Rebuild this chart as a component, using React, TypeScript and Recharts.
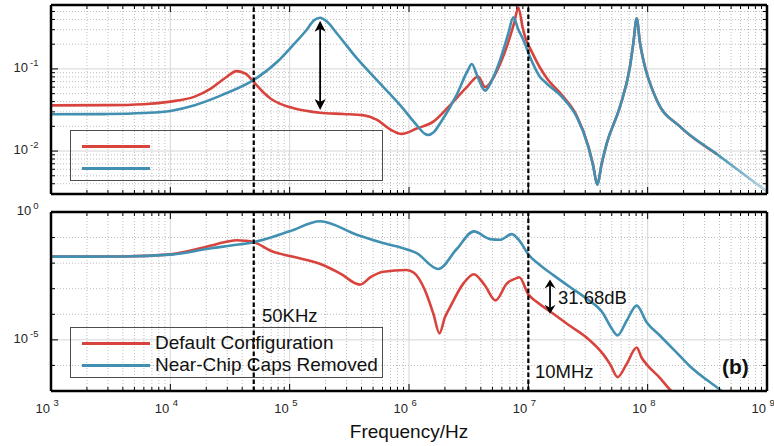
import React from "react";
import { CartesianGrid, Label, Legend, Line, LineChart, ReferenceLine, XAxis, YAxis } from "recharts";

type Pt = [number, number];

const RED = "#d8443d";
const BLUE = "#4190b1";
const INK = "#262626";
const FONT = "Arial, 'Liberation Sans', Helvetica, sans-serif";

const seriesNames = ["Default Configuration", "Near-Chip Caps Removed"];

// frequency axis (Hz)
const freqDomain: [number, number] = [1e3, 1e9];
const freqDecades = [1e3, 1e4, 1e5, 1e6, 1e7, 1e8, 1e9];
const subSteps = [2, 3, 4, 5, 6, 7, 8, 9];
const freqMinor = freqDecades.slice(0, -1).flatMap((d) => subSteps.map((k) => k * d));
const freqTicks = [...freqDecades, ...freqMinor].sort((a, b) => a - b);
const markerHz = [5e4, 1e7];

// top panel
const topDomain: [number, number] = [0.003, 0.6];
const topLabelled = [0.01, 0.1];
const topTicks = [
  0.003, 0.004, 0.005, 0.006, 0.007, 0.008, 0.009, 0.01, 0.02, 0.03, 0.04, 0.05, 0.06, 0.07, 0.08, 0.09, 0.1, 0.2,
  0.3, 0.4, 0.5, 0.6,
];
const topMinorGrid = topTicks.filter((v) => v > 0.003 && !topLabelled.includes(v));

// bottom panel
const botDomain: [number, number] = [1e-7, 1];
const botLabelled = [1e-5, 1];
const botTicks = [1e-7, 1e-6, 1e-5, 1e-4, 1e-3, 1e-2, 1e-1, 1];
const botMinorGrid = [1e-6, 1e-4, 1e-3, 1e-2, 1e-1];

// [Hz, magnitude]
const topRed: Pt[] = [
  [1e3, 0.036], [3e3, 0.0362], [6e3, 0.0372], [1e4, 0.04], [1.6e4, 0.046], [2.2e4, 0.058], [2.9e4, 0.078],
  [3.6e4, 0.094], [4.3e4, 0.087], [5e4, 0.069], [6e4, 0.052], [7e4, 0.043], [9e4, 0.036], [1.1e5, 0.033],
  [1.8e5, 0.0293], [2.8e5, 0.0283], [4.1e5, 0.0274], [5.4e5, 0.024], [6.9e5, 0.0185], [8.7e5, 0.0162],
  [1.16e6, 0.0188], [1.6e6, 0.0228], [2.2e6, 0.036], [3.05e6, 0.06], [3.8e6, 0.081], [4.35e6, 0.06],
  [5.4e6, 0.092], [6.6e6, 0.187], [7.6e6, 0.36], [8.25e6, 0.56], [9e6, 0.31], [9.7e6, 0.215], [1.03e7, 0.18],
  [1.25e7, 0.104], [1.43e7, 0.077], [1.96e7, 0.046], [2.54e7, 0.027], [3.18e7, 0.0115], [3.5e7, 0.0066],
  [3.78e7, 0.0039], [4.12e7, 0.007], [4.54e7, 0.0124], [5.86e7, 0.0347], [7.11e7, 0.107], [7.58e7, 0.205],
  [8.09e7, 0.41], [8.63e7, 0.205], [9.19e7, 0.129], [1.19e8, 0.0419], [1.87e8, 0.0198], [3.8e8, 0.0092],
];

const topBlue: Pt[] = [
  [1e3, 0.028], [3e3, 0.0282], [6e3, 0.029], [1e4, 0.0308], [1.6e4, 0.0362], [2.7e4, 0.048], [5e4, 0.0734],
  [8e4, 0.125], [1.05e5, 0.19], [1.39e5, 0.3], [1.6e5, 0.39], [1.8e5, 0.42], [2.04e5, 0.38], [2.48e5, 0.272],
  [3.65e5, 0.135], [5.36e5, 0.0735], [8.4e5, 0.0364], [1.16e6, 0.0207], [1.35e6, 0.0163], [1.45e6, 0.0157],
  [1.6e6, 0.0168], [1.82e6, 0.0217], [2.5e6, 0.048], [3.1e6, 0.095], [3.36e6, 0.115], [3.7e6, 0.085],
  [4.34e6, 0.0544], [5e6, 0.075], [5.8e6, 0.129], [6.8e6, 0.27], [7.48e6, 0.426], [8.25e6, 0.3], [9.08e6, 0.226],
  [1.03e7, 0.141], [1.25e7, 0.0805], [1.43e7, 0.066], [1.96e7, 0.0439], [2.54e7, 0.0262], [3.18e7, 0.0113],
  [3.5e7, 0.0065], [3.78e7, 0.0039], [4.12e7, 0.0071], [4.54e7, 0.0124], [5.86e7, 0.0347], [7.11e7, 0.107],
  [7.58e7, 0.205], [8.09e7, 0.41], [8.63e7, 0.205], [9.19e7, 0.129], [1.19e8, 0.0419], [1.87e8, 0.0198],
  [3.79e8, 0.0092], [1e9, 0.0032],
];

const botRed: Pt[] = [
  [1e3, 0.018], [4e3, 0.0183], [1e4, 0.022], [2.2e4, 0.049], [3e4, 0.07], [3.6e4, 0.079], [4.2e4, 0.075],
  [5e4, 0.066], [7e4, 0.03], [1.05e5, 0.018], [1.9e5, 0.0085], [2.64e5, 0.004], [3.88e5, 0.00145],
  [4.8e5, 0.0029], [6.1e5, 0.0046], [9.5e5, 0.0054], [1.1e6, 0.0042], [1.36e6, 0.00087], [1.6e6, 0.000105],
  [1.8e6, 0.000018], [2e6, 0.000076], [2.21e6, 0.00019], [2.85e6, 0.00158], [3.5e6, 0.0037], [4.3e6, 0.0014],
  [5.32e6, 0.00035], [6.59e6, 0.00158], [7.98e6, 0.0026], [8.4e6, 0.0028], [1e7, 0.0006], [1.18e7, 0.0003],
  [1.62e7, 0.000105], [2.23e7, 0.0000355], [3.08e7, 0.0000123], [4.25e7, 0.0000027], [4.85e7, 0.0000011],
  [5.6e7, 3.5e-7], [6.67e7, 1.15e-6], [8.09e7, 5e-6], [8.9e7, 2e-6], [9.8e7, 1.1e-6], [1.27e8, 3.2e-7],
  [1.54e8, 1.12e-7], [2.2e8, 2.5e-8],
];

const botBlue: Pt[] = [
  [1e3, 0.018], [4e3, 0.0182], [1e4, 0.0215], [2.2e4, 0.0384], [3.6e4, 0.052], [5e4, 0.066], [1e5, 0.175],
  [1.8e5, 0.434], [3.65e5, 0.129], [6.9e5, 0.052], [8.4e5, 0.0417], [1.16e6, 0.0245], [1.76e6, 0.0059],
  [2.5e6, 0.035], [3.5e6, 0.174], [4.78e6, 0.087], [5.8e6, 0.082], [7.26e6, 0.137], [8.5e6, 0.071],
  [1e7, 0.0219], [1.25e7, 0.0084], [1.62e7, 0.0034], [2.23e7, 0.00117], [3.08e7, 0.00041], [4.25e7, 0.000105],
  [4.85e7, 0.000035], [5.6e7, 0.000015], [6.67e7, 0.000056], [8.09e7, 0.000219], [9.8e7, 0.000049],
  [1.27e8, 0.0000145], [1.75e8, 3.16e-6], [2.26e8, 9.3e-7], [4.04e8, 1.12e-7], [6e8, 2.5e-8],
];

// double arrows: [Hz, from, to]
const topArrow: [number, number, number] = [1.8e5, 0.385, 0.0316];
const botArrow: [number, number, number] = [1.52e7, 0.00229, 0.000105];

const toRows = (pts: Pt[]) => pts.map(([f, v]) => ({ f, v }));
const inList = (list: number[], v: number) => list.some((t) => Math.abs(t / v - 1) < 1e-6);

type Side = "bottom" | "top" | "left" | "right";

function tickFor(side: Side, longTicks: number[], labelled: number[]) {
  return (props: any) => {
    const { x, y, payload } = props;
    const v = Number(payload.value);
    const len = inList(longTicks, v) ? 7 : 4;
    const dx = side === "left" ? len : side === "right" ? -len : 0;
    const dy = side === "bottom" ? -len : side === "top" ? len : 0;
    const exp = Math.round(Math.log10(v));
    const show = inList(labelled, v);
    return (
      <g>
        <line x1={x} y1={y} x2={x + dx} y2={y + dy} stroke="#000" strokeWidth={1} />
        {show && side === "bottom" && (
          <g fill={INK}>
            <text x={x - 1} y={y + 21.5} textAnchor="end" fontSize={13}>
              10
            </text>
            <text x={x + 2.5} y={y + 14.5} fontSize={9.5}>
              {exp}
            </text>
          </g>
        )}
        {show && side === "left" && (
          <text x={x - 12.5} y={y + 3} textAnchor="end" fontSize={13} fill={INK}>
            10
            <tspan dx={2} dy={-6} fontSize={9.5}>
              {exp}
            </tspan>
          </text>
        )}
      </g>
    );
  };
}

const DoubleArrow = (props: any) => {
  const { x1, y1, y2 } = props;
  const top = Math.min(y1, y2);
  const bot = Math.max(y1, y2);
  const hl = bot - top > 50 ? 11 : 9;
  const hw = 5.5;
  return (
    <g>
      <line x1={x1} y1={top + 6} x2={x1} y2={bot - 6} stroke="#000" strokeWidth={1.8} />
      <path d={`M${x1},${top} L${x1 - hw},${top + hl} L${x1},${top + hl - 3} L${x1 + hw},${top + hl} Z`} fill="#000" />
      <path d={`M${x1},${bot} L${x1 - hw},${bot - hl} L${x1},${bot - hl + 3} L${x1 + hw},${bot - hl} Z`} fill="#000" />
    </g>
  );
};

function LegendBox({ payload, showText }: any) {
  const items = [...(payload ?? [])].sort((a: any, b: any) => seriesNames.indexOf(a.value) - seriesNames.indexOf(b.value));
  return (
    <div
      style={{
        width: 313,
        height: 51,
        boxSizing: "border-box",
        border: "1px solid #4d4d4d",
        position: "relative",
        fontFamily: FONT,
      }}
    >
      {items.map((entry: any, i: number) => (
        <div
          key={entry.value}
          style={{ position: "absolute", left: 11, top: 4 + i * 22, height: 22, display: "flex", alignItems: "center" }}
        >
          <div style={{ width: 68, height: 3, background: entry.value === seriesNames[0] ? RED : BLUE }} />
          {showText && (
            <span style={{ marginLeft: 5, fontSize: 19, color: "#111", lineHeight: "22px", whiteSpace: "nowrap" }}>
              {entry.value}
            </span>
          )}
        </div>
      ))}
    </div>
  );
}

interface PanelProps {
  height: number;
  margin: { top: number; right: number; bottom: number; left: number };
  yDomain: [number, number];
  yTicks: number[];
  yLabelled: number[];
  yMinorGrid: number[];
  red: Pt[];
  blue: Pt[];
  blueStroke: string;
  arrow: [number, number, number];
  legendTop: number;
  legendText: boolean;
  freqLabels: boolean;
}

function Panel(p: PanelProps) {
  const frame = { stroke: "#000", strokeWidth: 2.5 };
  const axisCommon = {
    type: "number" as const,
    scale: "log" as const,
    allowDataOverflow: true,
    interval: 0 as const,
    tickSize: 0,
    tickMargin: 0,
    tickLine: false,
    axisLine: frame,
  };
  return (
    <LineChart width={774} height={p.height} margin={p.margin}>
      <CartesianGrid
        xAxisId="x"
        yAxisId="y"
        horizontalValues={p.yMinorGrid}
        verticalValues={freqMinor}
        stroke="#bdbdbd"
        strokeDasharray="1 2"
        fill="none"
      />
      <CartesianGrid
        xAxisId="x"
        yAxisId="y"
        horizontalValues={p.yLabelled.filter((v) => v < p.yDomain[1])}
        verticalValues={freqDecades.slice(1, -1)}
        stroke="#d6d6d6"
        fill="none"
      />
      <XAxis
        {...axisCommon}
        xAxisId="x"
        dataKey="f"
        domain={freqDomain}
        ticks={freqTicks}
        height={1}
        tick={tickFor("bottom", freqDecades, p.freqLabels ? freqDecades : [])}
      >
        {p.freqLabels && <Label value="Frequency/Hz" position="bottom" offset={32.5} fill="#111" fontSize={19} />}
      </XAxis>
      <XAxis
        {...axisCommon}
        xAxisId="xt"
        orientation="top"
        dataKey="f"
        domain={freqDomain}
        ticks={freqTicks}
        height={1}
        tick={tickFor("top", freqDecades, [])}
      />
      <YAxis
        {...axisCommon}
        yAxisId="y"
        domain={p.yDomain}
        ticks={p.yTicks}
        width={51}
        tick={tickFor("left", p.yLabelled, p.yLabelled)}
      />
      <YAxis
        {...axisCommon}
        yAxisId="yr"
        orientation="right"
        domain={p.yDomain}
        ticks={p.yTicks}
        width={1}
        tick={tickFor("right", p.yLabelled, [])}
      />
      <Line
        xAxisId="x"
        yAxisId="y"
        data={toRows(p.red)}
        dataKey="v"
        name={seriesNames[0]}
        type="monotone"
        stroke={RED}
        strokeWidth={2.6}
        dot={false}
        activeDot={false}
        isAnimationActive={false}
      />
      <Line
        xAxisId="x"
        yAxisId="y"
        data={toRows(p.blue)}
        dataKey="v"
        name={seriesNames[1]}
        type="monotone"
        stroke={p.blueStroke}
        strokeWidth={2.6}
        dot={false}
        activeDot={false}
        isAnimationActive={false}
      />
      {markerHz.map((hz) => (
        <ReferenceLine
          key={hz}
          xAxisId="x"
          yAxisId="y"
          x={hz}
          stroke="#000"
          strokeWidth={2.2}
          strokeDasharray="4.5 2.5"
        />
      ))}
      <ReferenceLine
        xAxisId="x"
        yAxisId="y"
        segment={[
          { x: p.arrow[0], y: p.arrow[1] },
          { x: p.arrow[0], y: p.arrow[2] },
        ]}
        shape={DoubleArrow}
      />
      <Legend
        layout="horizontal"
        verticalAlign="middle"
        align="center"
        wrapperStyle={{ left: 70, top: p.legendTop, width: 313, height: 51 }}
        content={(props: any) => <LegendBox {...props} showText={p.legendText} />}
      />
    </LineChart>
  );
}

export default function App() {
  return (
    <div
      style={{
        position: "absolute",
        left: 0,
        top: 0,
        width: 774,
        height: 446,
        background: "#fff",
        fontFamily: FONT,
        overflow: "hidden",
      }}
    >
      <svg width={0} height={0} style={{ position: "absolute" }}>
        <defs>
          <linearGradient id="blueFade" x1="0" y1="0" x2="1" y2="0">
            <stop offset="0" stopColor={BLUE} />
            <stop offset="0.93" stopColor={BLUE} />
            <stop offset="1" stopColor="#bfd9e5" />
          </linearGradient>
        </defs>
      </svg>
      <div style={{ position: "absolute", left: 0, top: 0 }}>
        <Panel
          height={200}
          margin={{ top: 4, right: 6, bottom: 5, left: 0 }}
          yDomain={topDomain}
          yTicks={topTicks}
          yLabelled={topLabelled}
          yMinorGrid={topMinorGrid}
          red={topRed}
          blue={topBlue}
          blueStroke="url(#blueFade)"
          arrow={topArrow}
          legendTop={130}
          legendText={false}
          freqLabels={false}
        />
      </div>
      <div style={{ position: "absolute", left: 0, top: 200 }}>
        <Panel
          height={246}
          margin={{ top: 11, right: 6, bottom: 54, left: 0 }}
          yDomain={botDomain}
          yTicks={botTicks}
          yLabelled={botLabelled}
          yMinorGrid={botMinorGrid}
          red={botRed}
          blue={botBlue}
          blueStroke={BLUE}
          arrow={botArrow}
          legendTop={127}
          legendText={true}
          freqLabels={true}
        />
      </div>
      <svg
        width={774}
        height={446}
        style={{ position: "absolute", left: 0, top: 0, pointerEvents: "none" }}
        fontFamily={FONT}
        fill="#111"
      >
        <text x={262} y={322} fontSize={18.5}>
          50KHz
        </text>
        <text x={535} y={378} fontSize={18.5}>
          10MHz
        </text>
        <text x={558} y={304} fontSize={18.5}>
          31.68dB
        </text>
        <text x={722} y={374} fontSize={21} fontWeight="bold">
          (b)
        </text>
      </svg>
    </div>
  );
}
